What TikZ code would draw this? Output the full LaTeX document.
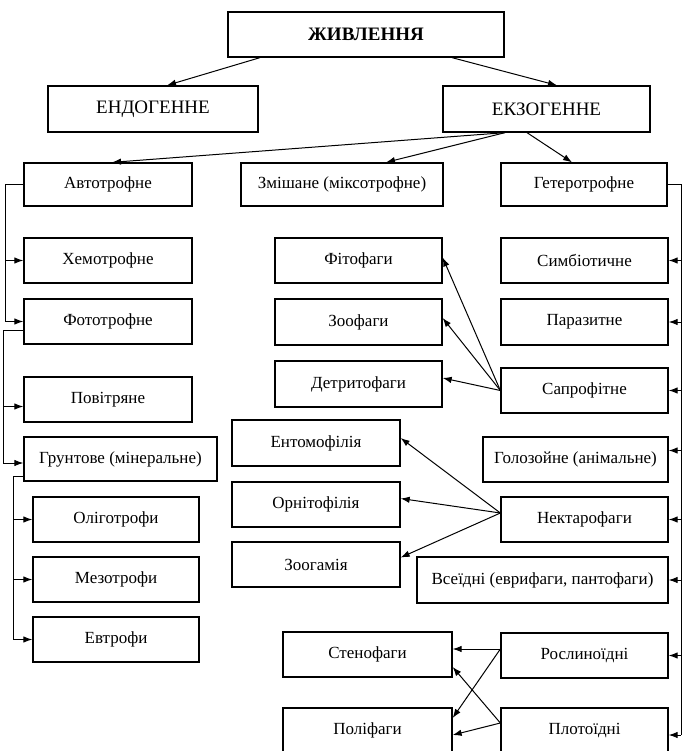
\documentclass[tikz,border=0pt]{standalone}
\usepackage{fontspec}
\setmainfont{Liberation Serif}
\usetikzlibrary{arrows.meta,calc}
\begin{document}
\begin{tikzpicture}[x=1pt,y=-1pt,
  bx/.style={draw, line width=1.3pt, inner sep=0pt, minimum height=45pt,
    font=\fontsize{17}{19}\selectfont},
  big/.style={font=\fontsize{19}{21}\selectfont},
  ln/.style={line width=1pt},
  arr/.style={line width=1pt, -{Latex[length=9pt,width=6.5pt]}}]
\useasboundingbox (0,0) rectangle (684,751);

% top levels
\node[bx, minimum width=276pt, font=\fontsize{19}{21}\selectfont\bfseries] (zhyv) at (366,34.5) {ЖИВЛЕННЯ};
\node[bx, big, minimum width=210pt, minimum height=46pt] (endo) at (153,109) {ЕНДОГЕННЕ};
\node[bx, big, minimum width=207pt, minimum height=46pt] (ekzo) at (546.5,109) {ЕКЗОГЕННЕ};

\node[bx, minimum width=168pt, minimum height=43pt] (avto) at (108,184.5) {Автотрофне};
\node[bx, minimum width=202pt, minimum height=43pt] (zmish) at (342,184.5) {Змішане (міксотрофне)};
\node[bx, minimum width=166pt, minimum height=43pt] (hetero) at (584,184.5) {Гетеротрофне};

% left column
\node[bx, minimum width=168pt] (hemo) at (108,260.5) {Хемотрофне};
\node[bx, minimum width=168pt] (foto) at (108,321.5) {Фототрофне};
\node[bx, minimum width=168pt] (povit) at (108,399.5) {Повітряне};
\node[bx, minimum width=193pt, minimum height=44pt] (grunt) at (120.5,459) {Грунтове (мінеральне)};
\node[bx, minimum width=166pt] (olig) at (116,519.5) {Оліготрофи};
\node[bx, minimum width=166pt] (mezo) at (116,579.5) {Мезотрофи};
\node[bx, minimum width=166pt] (evtr) at (116,639.5) {Евтрофи};

% middle column
\node[bx, minimum width=167pt] (fito) at (358.5,260.5) {Фітофаги};
\node[bx, minimum width=167pt, minimum height=46pt] (zoof) at (358.5,322) {Зоофаги};
\node[bx, minimum width=167pt, minimum height=46pt] (detr) at (358.5,384) {Детритофаги};
\node[bx, minimum width=168pt, minimum height=46pt] (ento) at (316,443) {Ентомофілія};
\node[bx, minimum width=168pt] (orni) at (316,504.5) {Орнітофілія};
\node[bx, minimum width=168pt] (zoog) at (316,564.5) {Зоогамія};
\node[bx, minimum width=169pt] (steno) at (367.5,654.5) {Стенофаги};
\node[bx, minimum width=169pt] (poli) at (367.5,730.5) {Поліфаги};

% right column
\node[bx, minimum width=167pt] (simb) at (584.5,260.5) {Симбіотичне};
\node[bx, minimum width=167pt, minimum height=46pt] (paraz) at (584.5,322) {Паразитне};
\node[bx, minimum width=167pt] (sapr) at (584.5,390.5) {Сапрофітне};
\node[bx, minimum width=185pt] (holoz) at (575.5,459.5) {Голозойне (анімальне)};
\node[bx, minimum width=167pt] (nekt) at (584.5,519.5) {Нектарофаги};
\node[bx, minimum width=251pt, minimum height=46pt] (vseid) at (542.5,580) {Всеїдні (еврифаги, пантофаги)};
\node[bx, minimum width=167pt] (rosl) at (584.5,655.5) {Рослиноїдні};
\node[bx, minimum width=167pt] (plot) at (584.5,730.5) {Плотоїдні};

% tree arrows
\draw[arr] ([xshift=-106pt]zhyv.south) -- ([xshift=14pt]endo.north);
\draw[arr] ([xshift=86pt]zhyv.south) -- ([xshift=10.5pt]ekzo.north);
\draw[arr] ([xshift=-41.5pt]ekzo.south) -- ([xshift=4pt]avto.north);
\draw[arr] ([xshift=-41.5pt]ekzo.south) -- ([xshift=44pt]zmish.north);
\draw[arr] ([xshift=-19.5pt]ekzo.south) -- ([xshift=-12pt]hetero.north);

% left brackets
\coordinate (l1) at (5,184.5);
\draw[ln] (avto.west) -- (l1) -- (l1 |- foto.west);
\draw[arr] (l1 |- hemo.west) -- (hemo.west);
\draw[arr] (l1 |- foto.west) -- (foto.west);

\coordinate (foS) at ([yshift=-8.5pt]foto.west);
\coordinate (povT) at ([yshift=-7pt]povit.west);
\coordinate (grT) at ([yshift=-4pt]grunt.west);
\coordinate (l2) at (3,330);
\draw[ln] (foS) -- (l2) -- (l2 |- grT);
\draw[arr] (l2 |- povT) -- (povT);
\draw[arr] (l2 |- grT) -- (grT);

\coordinate (grS) at ([yshift=-17pt]grunt.west);
\coordinate (l3) at (13,476);
\draw[ln] (grS) -- (l3) -- (l3 |- evtr.west);
\draw[arr] (l3 |- olig.west) -- (olig.west);
\draw[arr] (l3 |- mezo.west) -- (mezo.west);
\draw[arr] (l3 |- evtr.west) -- (evtr.west);

% right bracket
\coordinate (holT) at ([yshift=9pt]holoz.east);
\coordinate (plT) at ([yshift=-4.5pt]plot.east);
\coordinate (r1) at (681,184.5);
\draw[ln] (hetero.east) -- (r1) -- (r1 |- plT);
\foreach \t in {simb,paraz,sapr,holT,nekt,vseid,rosl,plT}
  \draw[arr] (r1 |- \t) -- (\t);

% saprophytes
\draw[arr] (sapr.west) -- ([yshift=3pt]fito.east);
\draw[arr] (sapr.west) -- ([yshift=4pt]zoof.east);
\draw[arr] (sapr.west) -- ([yshift=6pt]detr.east);

% nectar feeders
\coordinate (nkS) at ([yshift=6.5pt]nekt.west);
\draw[arr] (nkS) -- ([yshift=5pt]ento.east);
\draw[arr] (nkS) -- ([yshift=6pt]orni.east);
\draw[arr] (nkS) -- ([yshift=7pt]zoog.east);

% plant and meat eaters
\coordinate (roS) at ([yshift=6.5pt]rosl.west);
\coordinate (plS) at ([yshift=7.5pt]plot.west);
\draw[arr] (roS) -- ([yshift=5.5pt]steno.east);
\draw[arr] (roS) -- ([yshift=12.5pt]poli.east);
\draw[arr] (plS) -- ([yshift=-12.5pt]steno.east);
\draw[arr] (plS) -- ([yshift=-4.5pt]poli.east);
\end{tikzpicture}
\end{document}
